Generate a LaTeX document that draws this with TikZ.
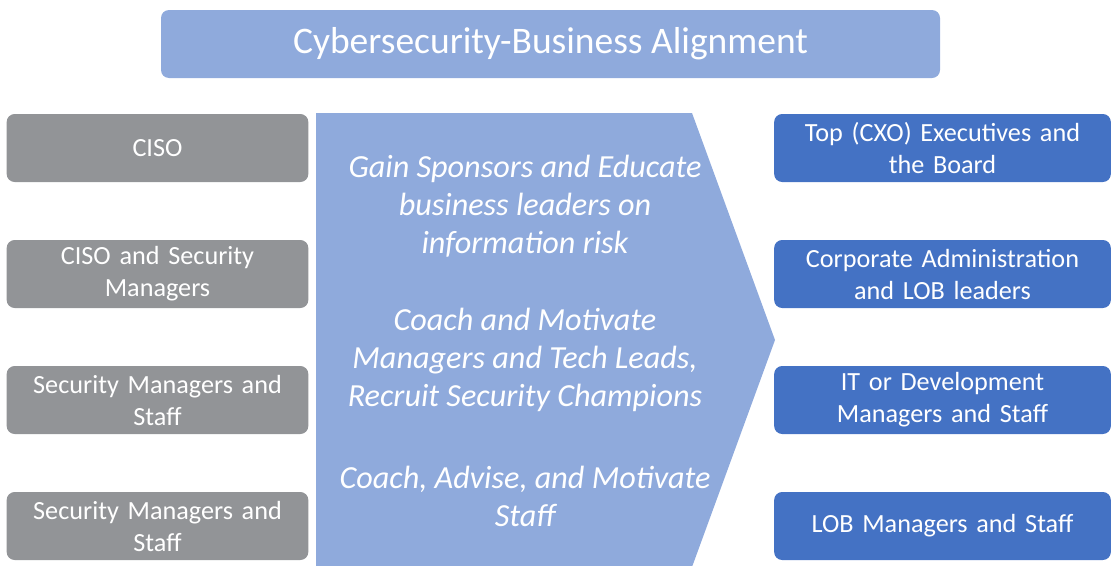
\documentclass[tikz,border=0pt]{standalone}
\usepackage{fontspec}
\setmainfont{Carlito}
\definecolor{lightblue}{HTML}{8FAADC}
\definecolor{darkblue}{HTML}{4472C4}
\definecolor{roleGray}{HTML}{929497}
\tikzset{
    rolebox/.style={rectangle, rounded corners=8pt, minimum width=301pt, minimum height=68pt,
        text width=295pt, align=center, text=white, font=\fontsize{26.2}{32}\selectfont},
    secbox/.style={rolebox, fill=roleGray},
    bizbox/.style={rolebox, fill=darkblue, minimum width=335pt, text width=330pt},
    actiontext/.style={align=center, text=white, font=\fontsize{32.2}{38}\selectfont\itshape}
}
\begin{document}
\begin{tikzpicture}[x=1pt, y=-1pt]
    \useasboundingbox (0,0) rectangle (1115,565);

    % Title bar
    \node[rectangle, rounded corners=8pt, fill=lightblue, minimum width=779pt, minimum height=68pt,
        text=white, font=\fontsize{37.5}{42}\selectfont] (title) at (550.5,44) {Cybersecurity-Business Alignment};

    % Big arrow in the middle
    \fill[lightblue] (316,113) -- (692,113) -- (775,340) -- (692,567) -- (316,567) -- cycle;

    % Security side
    \node[secbox] (ciso) at (157.5,148) {CISO};
    \node[secbox] (cisomgr) at (157.5,274) {CISO and Security\\Managers};
    \node[secbox] (secstaffA) at (157.5,400) {Security Managers and\\Staff};
    \node[secbox] (secstaffB) at (157.5,526) {Security Managers and\\Staff};

    % Business side
    \node[bizbox] (execs) at (942.5,148) {Top (CXO) Executives and\\the Board};
    \node[bizbox] (corpadmin) at (942.5,274) {Corporate Administration\\and LOB leaders};
    \node[bizbox] (itdev) at (942.5,400) {IT or Development\\Managers and Staff};
    \node[bizbox] (lobstaff) at (942.5,526) {LOB Managers and Staff};

    % Actions on the arrow
    \node[actiontext] (educate) at (525,206) {Gain Sponsors and Educate\\business leaders on\\information risk};
    \node[actiontext] (motivate) at (525,360) {Coach and Motivate\\Managers and Tech Leads,\\Recruit Security Champions};
    \node[actiontext] (advise) at (525,496) {Coach, Advise, and Motivate\\Staff};

\end{tikzpicture}
\end{document}
